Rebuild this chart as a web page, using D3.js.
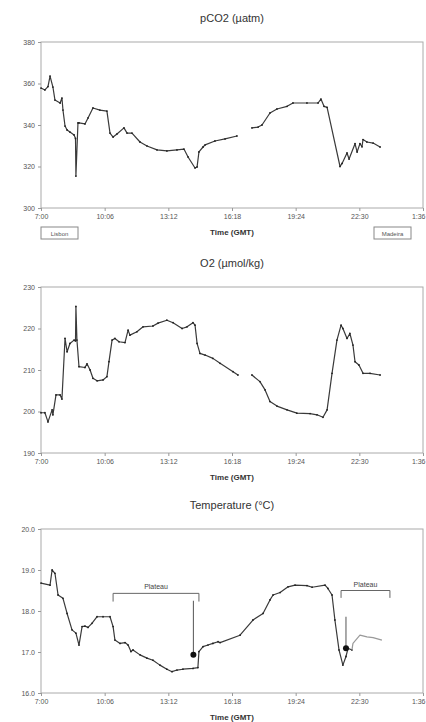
<!DOCTYPE html>
<html>
<head>
<meta charset="utf-8">
<script src="https://cdn.jsdelivr.net/npm/d3@7"></script>
<style>
  body { margin: 0; background: #fff; }
  svg { display: block; font-family: "Liberation Sans", Arial, sans-serif; }
</style>
</head>
<body>
<div id="chart"></div>
<script>
// hours since 7:00 GMT, one tick every 3.1 h
var tickHours = [0, 3.1, 6.2, 9.3, 12.4, 15.5, 18.6];
var timeLabels = ["7:00", "10:06", "13:12", "16:18", "19:24", "22:30", "1:36"];

var pco2Ticks = [300, 320, 340, 360, 380];
var o2Ticks = [190, 200, 210, 220, 230];
var tempTicks = [16, 17, 18, 19, 20];

// [hour, value]; null = gap in the record
var pco2 = [[0,357.8],[0.19,356.9],[0.34,358.5],[0.44,363.6],[0.58,358.3],[0.68,352.0],[0.93,350.6],[1.02,353.0],
  [1.07,347.2],[1.17,339.5],[1.27,337.6],[1.41,336.6],[1.61,335.2],[1.68,333.5],[1.70,315.4],[1.80,341.0],[1.85,341.0],
  [2.14,340.5],[2.29,343.4],[2.53,348.2],[2.87,347.2],[3.21,346.7],[3.36,336.1],[3.51,334.2],[3.70,335.7],[4.04,338.6],
  [4.19,336.1],[4.43,336.1],[4.82,331.8],[5.16,329.9],[5.65,328.0],[6.13,327.5],[6.62,328.0],[6.96,328.4],[7.16,324.6],
  [7.50,319.3],[7.60,319.8],[7.69,327.0],[7.89,329.4],[7.99,330.4],[8.47,332.3],[8.96,333.3],[9.54,334.7],
  null,
  [10.27,338.6],[10.57,339.0],[10.76,340.0],[11.15,345.8],[11.49,347.7],[11.98,349.0],[12.27,350.6],[12.95,350.6],
  [13.49,350.6],[13.63,352.5],[13.78,349.0],[13.93,348.5],[14.56,320.0],[14.66,321.5],[14.90,326.5],[15.00,323.6],
  [15.29,331.0],[15.39,327.0],[15.53,331.0],[15.63,329.5],[15.68,333.0],[15.87,331.8],[16.17,331.3],[16.51,329.4]];

var o2 = [[0,199.7],[0.19,199.7],[0.34,197.5],[0.54,200.4],[0.58,199.2],[0.73,204.0],[0.93,204.0],[1.02,203.0],
  [1.17,217.6],[1.27,214.4],[1.41,216.4],[1.61,217.2],[1.68,217.0],[1.70,225.3],[1.75,217.2],[1.85,210.8],[2.14,210.6],
  [2.24,211.5],[2.39,210.0],[2.53,208.0],[2.73,207.4],[3.02,207.6],[3.21,208.4],[3.31,212.0],[3.46,217.2],[3.60,217.6],
  [3.80,216.8],[4.09,216.6],[4.24,219.6],[4.33,218.4],[4.67,219.2],[4.97,220.4],[5.45,220.6],[5.70,221.3],[6.13,222.0],
  [6.43,221.4],[6.87,220.0],[7.11,220.4],[7.40,221.4],[7.50,220.8],[7.60,216.4],[7.74,214.0],[7.99,213.6],[8.37,212.8],
  [8.72,211.6],[9.35,209.6],[9.59,208.8],
  null,
  [10.27,208.8],[10.66,207.2],[10.91,205.2],[11.15,202.4],[11.49,201.3],[11.98,200.4],[12.46,199.6],[13.10,199.5],
  [13.44,199.2],[13.73,198.6],[13.93,200.4],[14.17,209.2],[14.41,217.2],[14.61,220.8],[14.70,220.0],[14.90,217.6],
  [15.04,218.8],[15.19,216.0],[15.29,212.0],[15.48,211.2],[15.68,209.2],[16.02,209.2],[16.51,208.8]];

var temp = [[0,18.68],[0.44,18.63],[0.54,19.00],[0.68,18.92],[0.83,18.39],[1.07,18.31],[1.27,17.94],[1.51,17.54],
  [1.70,17.46],[1.85,17.17],[2.00,17.62],[2.14,17.63],[2.29,17.60],[2.48,17.70],[2.73,17.86],[3.02,17.86],[3.36,17.86],
  [3.51,17.62],[3.60,17.29],[3.85,17.21],[4.09,17.23],[4.24,17.17],[4.38,17.01],[4.48,17.05],[4.82,16.93],[5.16,16.85],
  [5.45,16.80],[5.79,16.68],[6.13,16.58],[6.38,16.52],[6.62,16.56],[6.91,16.58],[7.40,16.60],[7.64,16.62],[7.69,17.01],
  [7.89,17.13],[8.13,17.17],[8.37,17.21],[8.62,17.25],[8.72,17.23],[9.69,17.41],[10.32,17.78],[10.81,17.94],[11.15,18.27],
  [11.30,18.39],[11.64,18.45],[12.03,18.59],[12.37,18.63],[12.95,18.62],[13.20,18.58],[13.83,18.63],[13.97,18.55],
  [14.17,18.39],[14.31,17.78],[14.51,17.05],[14.70,16.68],[14.85,16.89],[14.95,17.09],[15.14,17.05]];
var tempLate = [[15.14,17.05],[15.19,17.21],[15.53,17.41],[15.87,17.37],[16.17,17.35],[16.60,17.29]];

// plateau brackets: [start, end, bar level, tick level]
var plateaus = [[3.51, 7.69, 18.43, 18.23], [14.61, 16.99, 18.50, 18.32]];
var plateauLabels = ["Plateau", "Plateau"];
// arrows: [hour, from value, to value]
var arrows = [[7.42, 18.25, 16.93], [14.85, 17.86, 17.09]];

var W = 426, H = 722;
var left = 41, right = 423;

var svg = d3.select("#chart").append("svg")
    .attr("width", W)
    .attr("height", H);

var x = d3.scaleLinear().domain([0, 18.6]).range([left, right]);

function drawPanel(top, bottom, title, yTicks, fmt, series)
{
    var y = d3.scaleLinear()
        .domain([yTicks[0], yTicks[yTicks.length - 1]])
        .range([bottom, top]);

    var g = svg.append("g");

    // title
    g.append("text")
        .attr("x", (left + right) / 2)
        .attr("y", top - 20)
        .attr("text-anchor", "middle")
        .style("font-size", "11px")
        .style("fill", "#333")
        .text(title);

    // frame
    g.append("rect")
        .attr("x", left).attr("y", top)
        .attr("width", right - left).attr("height", bottom - top)
        .attr("fill", "none")
        .attr("stroke", "#aaa");

    // axes
    var xAxis = g.append("g")
        .attr("transform", "translate(0," + bottom + ")")
        .call(d3.axisBottom(x).tickValues(tickHours).tickSize(3)
            .tickFormat(function(d, i) { return timeLabels[i]; }));
    var yAxis = g.append("g")
        .attr("transform", "translate(" + left + ",0)")
        .call(d3.axisLeft(y).tickValues(yTicks).tickSize(3).tickFormat(fmt));
    [xAxis, yAxis].forEach(function(a) {
        a.select(".domain").remove();
        a.selectAll("line").attr("stroke", "#999");
        a.selectAll("text").style("font-size", "7px").style("fill", "#555")
            .style("font-family", "'Liberation Sans', Arial, sans-serif");
    });
    yAxis.selectAll("text").attr("x", -6);
    // keep the last time label inside the page
    xAxis.selectAll(".tick:last-of-type text").attr("text-anchor", "end").attr("x", 2);

    // axis label
    g.append("text")
        .attr("x", (left + right) / 2)
        .attr("y", bottom + 27)
        .attr("text-anchor", "middle")
        .style("font-size", "8px")
        .style("font-weight", "bold")
        .style("fill", "#333")
        .text("Time (GMT)");

    var line = d3.line()
        .defined(function(d) { return d !== null; })
        .x(function(d) { return x(d[0]); })
        .y(function(d) { return y(d[1]); });

    series.forEach(function(s) {
        g.append("path")
            .datum(s.data)
            .attr("fill", "none")
            .attr("stroke", s.color)
            .attr("stroke-width", 1.2)
            .attr("stroke-linejoin", "round")
            .attr("d", line);
        if (s.dots) {
            g.selectAll(null)
                .data(s.data.filter(function(d) { return d !== null; }))
                .enter().append("circle")
                .attr("cx", function(d) { return x(d[0]); })
                .attr("cy", function(d) { return y(d[1]); })
                .attr("r", 0.9)
                .attr("fill", "#222");
        }
    });

    return { g: g, y: y };
}

var fmt0 = d3.format("d"), fmt1 = d3.format(".1f");

var p1 = drawPanel(42, 208, "pCO2 (\u00b5atm)", pco2Ticks, fmt0, [{ data: pco2, color: "#3a3a3a", dots: true }]);
drawPanel(287, 453, "O2 (\u00b5mol/kg)", o2Ticks, fmt0, [{ data: o2, color: "#3a3a3a", dots: true }]);
var p3 = drawPanel(529, 693, "Temperature (\u00b0C)", tempTicks, fmt1,
    [{ data: temp, color: "#3a3a3a", dots: true }, { data: tempLate, color: "#999", dots: false }]);

// station boxes under the pCO2 panel
var boxes = [{ x: left, label: "Lisbon" }, { x: 374, label: "Madeira" }];
boxes.forEach(function(b) {
    p1.g.append("rect")
        .attr("x", b.x).attr("y", 227)
        .attr("width", 37).attr("height", 12)
        .attr("fill", "none").attr("stroke", "#888");
    p1.g.append("text")
        .attr("x", b.x + 18.5).attr("y", 235.5)
        .attr("text-anchor", "middle")
        .style("font-size", "6px").style("fill", "#555")
        .text(b.label);
});

// plateau brackets and arrows on the temperature panel
var ty = p3.y;
plateaus.forEach(function(p, i) {
    p3.g.append("path")
        .attr("d", "M" + x(p[0]) + "," + ty(p[3]) + "V" + ty(p[2]) + "H" + x(p[1]) + "V" + ty(p[3]))
        .attr("fill", "none").attr("stroke", "#666");
    p3.g.append("text")
        .attr("x", (x(p[0]) + x(p[1])) / 2)
        .attr("y", ty(p[2]) - 4)
        .attr("text-anchor", "middle")
        .style("font-size", "7px").style("fill", "#444")
        .text(plateauLabels[i]);
});
arrows.forEach(function(a) {
    p3.g.append("line")
        .attr("x1", x(a[0])).attr("x2", x(a[0]))
        .attr("y1", ty(a[1])).attr("y2", ty(a[2]))
        .attr("stroke", "#555");
    p3.g.append("circle")
        .attr("cx", x(a[0])).attr("cy", ty(a[2]))
        .attr("r", 3).attr("fill", "#111");
});
</script>
</body>
</html>
